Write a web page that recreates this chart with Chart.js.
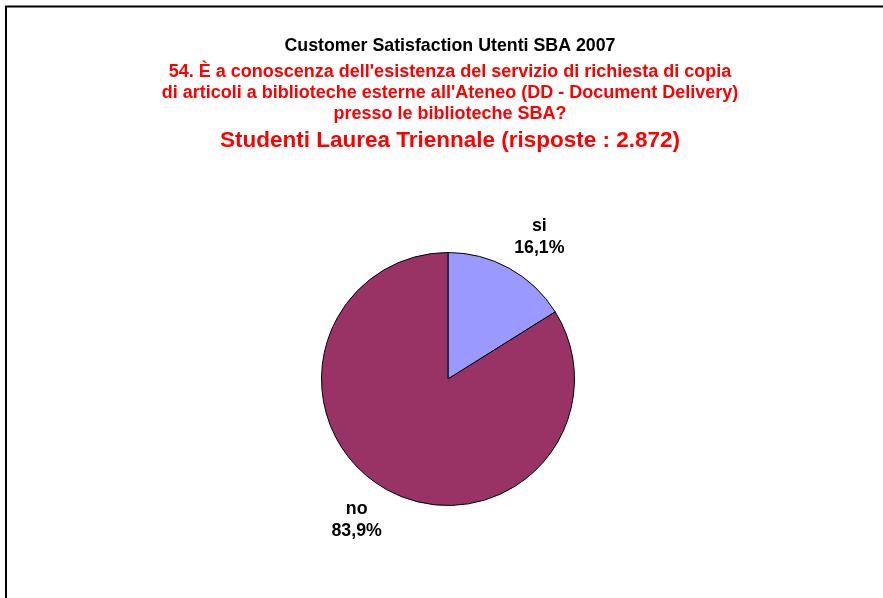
<!DOCTYPE html>
<html>
<head>
<meta charset="utf-8">
<script src="https://cdn.jsdelivr.net/npm/chart.js@4.4.1/dist/chart.umd.min.js"></script>
<style>
    html, body { margin: 0; padding: 0; background: #fff; }
    #wrap { position: relative; width: 883px; height: 598px; }
</style>
</head>
<body>
<div id="wrap"><canvas id="grafico" width="883" height="598"></canvas></div>
<script>
// Datos del gráfico
const categorias = ['si', 'no'];
const valores = [16.1, 83.9];
const etiquetas = ['16,1%', '83,9%'];
const colores = ['#9999FF', '#993366'];

const tituloNegro = 'Customer Satisfaction Utenti SBA 2007';
const tituloRojo = [
    "54. È a conoscenza dell'esistenza del servizio di richiesta di copia",
    "di articoli a biblioteche esterne all'Ateneo (DD - Document Delivery)",
    'presso le biblioteche SBA?'
];
const subtitulo = 'Studenti Laurea Triennale (risposte : 2.872)';

(function() {
    'use strict';

    const fuente = '"Liberation Sans", Arial, sans-serif';

    // Marco y títulos
    const marcoTitulos = {
        id: 'marcoTitulos',
        beforeDraw: function(chart) {
            const ctx = chart.ctx;
            ctx.save();
            ctx.fillStyle = '#fff';
            ctx.fillRect(0, 0, chart.width, chart.height);
            ctx.strokeStyle = '#000';
            ctx.lineWidth = 2;
            ctx.beginPath();
            ctx.moveTo(6, chart.height);
            ctx.lineTo(6, 6.5);
            ctx.lineTo(chart.width, 6.5);
            ctx.stroke();
            ctx.restore();
        },
        afterDraw: function(chart) {
            const ctx = chart.ctx;
            const cx = 450;
            ctx.save();
            ctx.textAlign = 'center';
            ctx.textBaseline = 'middle';
            ctx.fillStyle = '#000';
            ctx.font = 'bold 17.8px ' + fuente;
            ctx.fillText(tituloNegro, cx, 46);
            ctx.fillStyle = '#FF0000';
            ctx.font = 'bold 18px ' + fuente;
            tituloRojo.forEach(function(linea, i) {
                ctx.fillText(linea, cx, 72 + i * 21);
            });
            ctx.font = 'bold 22.5px ' + fuente;
            ctx.fillText(subtitulo, cx, 141);
            ctx.restore();
        }
    };

    // Etiquetas de las porciones
    const etiquetasPie = {
        id: 'etiquetasPie',
        afterDatasetsDraw: function(chart) {
            const ctx = chart.ctx;
            const meta = chart.getDatasetMeta(0);
            ctx.save();
            ctx.font = 'bold 17.8px ' + fuente;
            ctx.fillStyle = '#000';
            ctx.textAlign = 'center';
            ctx.textBaseline = 'middle';
            meta.data.forEach(function(arc, i) {
                const p = arc.getProps(['x', 'y', 'startAngle', 'endAngle', 'outerRadius']);
                const ang = (p.startAngle + p.endAngle) / 2;
                const d = p.outerRadius + 10;
                const ax = p.x + Math.cos(ang) * d;
                const ay = p.y + Math.sin(ang) * d;
                const w = Math.max(ctx.measureText(categorias[i]).width, ctx.measureText(etiquetas[i]).width);
                const h = 44;
                const bx = ax + Math.sign(Math.cos(ang)) * w / 2;
                const by = ay + Math.sign(Math.sin(ang)) * h / 2;
                ctx.fillText(categorias[i], bx, by - 11);
                ctx.fillText(etiquetas[i], bx, by + 11);
            });
            ctx.restore();
        }
    };

    const ctx = document.getElementById('grafico').getContext('2d');
    new Chart(ctx, {
        type: 'pie',
        data: {
            labels: categorias,
            datasets: [{
                data: valores,
                backgroundColor: colores,
                borderColor: '#000',
                borderWidth: 1
            }]
        },
        options: {
            responsive: false,
            animation: false,
            layout: {
                padding: { top: 252, bottom: 92, left: 13, right: 0 }
            },
            plugins: {
                legend: { display: false },
                tooltip: { enabled: false },
                title: { display: false }
            }
        },
        plugins: [marcoTitulos, etiquetasPie]
    });
})();
</script>
</body>
</html>
